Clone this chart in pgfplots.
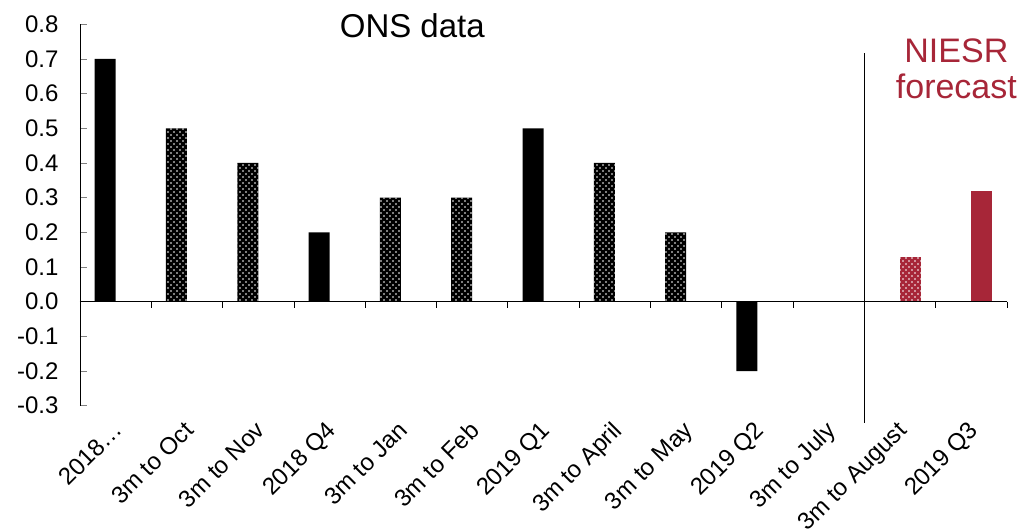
\documentclass[border=0pt]{standalone}
\usepackage{pgfplots}
\pgfplotsset{compat=1.18}
\usepackage{fontspec}
\setmainfont{Liberation Sans}
\usetikzlibrary{patterns}
\definecolor{niesr}{RGB}{167,38,56}
\pgfdeclarepatternformonly{bigdots}{\pgfqpoint{-1pt}{-1pt}}{\pgfqpoint{5pt}{5pt}}{\pgfqpoint{6pt}{6pt}}{%
  \pgfpathcircle{\pgfqpoint{0pt}{0pt}}{.8pt}%
  \pgfpathcircle{\pgfqpoint{3pt}{3pt}}{.8pt}%
  \pgfusepath{fill}}

\begin{document}
\begin{tikzpicture}
\begin{axis}[
  scale only axis, width=927pt, height=381.4pt,
  xmin=-0.5, xmax=12.5, ymin=-0.3, ymax=0.8,
  clip=false,
  axis y line*=left, axis x line*=bottom,
  x axis line style={draw=none},
  y axis line style={line width=0.8pt},
  xtick={0,...,12},
  xtick style={draw=none},
  xticklabels={2018…,3m to Oct,3m to Nov,2018 Q4,3m to Jan,3m to Feb,2019 Q1,3m to April,3m to May,2019 Q2,3m to July,3m to August,2019 Q3},
  xticklabel style={xshift=-4pt, yshift=-14pt, rotate=45, anchor=north east, inner sep=0pt, font=\fontsize{24}{28}\selectfont},
  ytick={-0.3,-0.2,-0.1,0,0.1,0.2,0.3,0.4,0.5,0.6,0.7,0.8},
  tick align=inside, major tick length=7pt,
  ytick style={line width=0.8pt},
  yticklabel style={/pgf/number format/fixed, /pgf/number format/fixed zerofill, /pgf/number format/precision=1, xshift=-18pt, font=\fontsize{24}{28}\selectfont},
  /pgf/number format/assume math mode=true,
]
% ONS data, solid = quarterly, dotted = 3m on 3m
\addplot[ybar, bar width=0.295, bar shift=-0.147, fill=black, draw=none]
  coordinates {(0,0.7) (3,0.2) (6,0.5) (9,-0.2)};
\addplot[ybar, bar width=0.295, bar shift=-0.147, fill=black, draw=none,
  postaction={pattern=bigdots, pattern color=white}]
  coordinates {(1,0.5) (2,0.4) (4,0.3) (5,0.3) (7,0.4) (8,0.2)};
% NIESR forecast
\addplot[ybar, bar width=0.295, bar shift=0.147, fill=niesr, draw=none,
  postaction={pattern=bigdots, pattern color=white}]
  coordinates {(11,0.13)};
\addplot[ybar, bar width=0.295, bar shift=0.147, fill=niesr, draw=none]
  coordinates {(12,0.32)};

\draw[line width=0.8pt] (axis cs:-0.5,0) -- (axis cs:12.5,0);
\pgfplotsinvokeforeach{0.5,1.5,2.5,3.5,4.5,5.5,6.5,7.5,8.5,9.5,11.5,12.5}{
  \draw[line width=0.8pt] (axis cs:#1,0) -- ([yshift=-6pt]axis cs:#1,0);
}
\draw[line width=0.8pt] (axis cs:10.5,0.716) -- (axis cs:10.5,-0.35);

\node[anchor=base, font=\fontsize{33}{38}\selectfont] at (axis cs:4.16,0.7615) {ONS data};
\node[anchor=base, text=niesr, font=\fontsize{34}{38}\selectfont] at (axis cs:11.79,0.6885) {NIESR};
\node[anchor=base, text=niesr, font=\fontsize{34}{38}\selectfont] at (axis cs:11.79,0.5855) {forecast};
\end{axis}
\pgfresetboundingbox
\path ([xshift=-80pt,yshift=-122.3pt]current axis.south west) rectangle ([xshift=12pt,yshift=24.3pt]current axis.north east);
\end{tikzpicture}
\end{document}
